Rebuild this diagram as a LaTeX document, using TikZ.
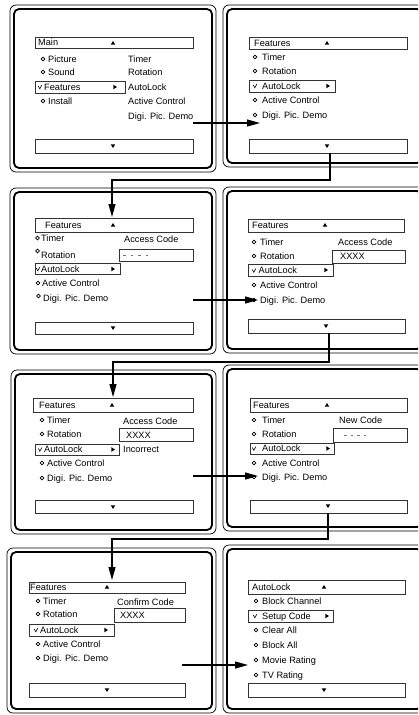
\documentclass[tikz,border=0pt]{standalone}
\usepackage{fontspec}
\setmainfont{Liberation Sans}
\usetikzlibrary{arrows.meta}
\tikzset{
  txt/.style={anchor=base west, inner sep=0pt, font=\fontsize{9.2}{10}\selectfont},
  mbox/.style={draw=black!80, line width=0.8pt},
  conn/.style={line width=1.2pt, -{Triangle[length=13pt,width=7pt]}},
  fout/.style={line width=0.7pt, rounded corners=6pt},
  finn/.style={line width=1.8pt, rounded corners=5pt},
}
\newcommand\tx[4]{\node[txt] (#1) at (#2,#3+3.2) {#4};}
\newcommand\mydia[2]{\draw[line width=0.7pt] (#1-1.8,#2)--(#1,#2-1.8)--(#1+1.8,#2)--(#1,#2+1.8)--cycle;}
\newcommand\mychk[2]{\draw[line width=0.6pt] (#1-1.7,#2-1)--(#1-0.2,#2+1.8)--(#1+1.9,#2-2);}
\newcommand\uptri[2]{\fill (#1-2.3,#2+1.7)--(#1+2.3,#2+1.7)--(#1,#2-2)--cycle;}
\newcommand\dntri[2]{\fill (#1-2.3,#2-1.7)--(#1+2.3,#2-1.7)--(#1,#2+2)--cycle;}
\newcommand\rttri[2]{\fill (#1-1.7,#2-2.3)--(#1-1.7,#2+2.3)--(#1+2,#2)--cycle;}
\newcommand\dashrow[3]{\foreach \k in {0,...,3} {\draw[black!55, line width=0.6pt] (#1+\k*#3,#2)--(#1+\k*#3+2.6,#2);}}
\newcommand\pframe[4]{\draw[fout] (#1,#2) rectangle (#3,#4); \draw[finn] (#1+4,#2+4) rectangle (#3-4,#4-4);}
\begin{document}
\begin{tikzpicture}[x=1pt,y=-1pt]
\useasboundingbox (0,0) rectangle (418,715);
\clip (0,0) rectangle (418,715);
% ---------- frames
\pframe{10}{5}{216}{172}
\pframe{223}{5}{426}{167}
\pframe{10}{188}{216}{354}
\pframe{223}{187}{426}{353}
\pframe{11}{370}{216}{534}
\pframe{223}{365}{426}{531}
\pframe{7}{548}{216}{713}
\pframe{223}{545}{426}{713}

% ---------- panel 1
\draw[mbox] (35,37) rectangle (193,48);
\tx{p1t}{38}{42.5}{Main} \uptri{113}{43}
\mydia{43}{59} \tx{p1a}{48}{59}{Picture}
\mydia{43}{72} \tx{p1b}{48}{72}{Sound}
\draw[mbox] (35,81) rectangle (125,93);
\mychk{40}{87} \tx{p1c}{44}{87}{Features} \rttri{115}{87}
\mydia{43}{101} \tx{p1d}{48}{101}{Install}
\tx{p1e}{128}{59}{Timer}
\tx{p1f}{128}{72}{Rotation}
\tx{p1g}{128}{87}{AutoLock}
\tx{p1h}{128}{101}{Active Control}
\tx{p1i}{128}{116}{Digi. Pic. Demo}
\draw[mbox] (35,139) rectangle (193,153); \dntri{113}{146}

% ---------- panel 2
\draw[mbox] (249,37) rectangle (407,49);
\tx{p2t}{254}{43}{Features} \uptri{327}{43}
\mydia{255}{57} \tx{p2a}{262}{57}{Timer}
\mydia{255}{71} \tx{p2b}{262}{71}{Rotation}
\draw[mbox] (249,80) rectangle (335,92);
\mychk{255}{86} \tx{p2c}{262}{86}{AutoLock} \rttri{328}{86}
\mydia{255}{100} \tx{p2d}{262}{100}{Active Control}
\mydia{255}{115} \tx{p2e}{262}{115}{Digi. Pic. Demo}
\draw[mbox] (249,139) rectangle (407,153); \dntri{327}{146}

% ---------- panel 3
\draw[mbox] (35,218) rectangle (193,232);
\tx{p3t}{45}{225}{Features} \uptri{113}{225}
\mydia{37.5}{238} \tx{p3a}{41}{238}{Timer}
\mydia{37.5}{251} \tx{p3b}{41}{255}{Rotation}
\draw[mbox] (35,263) rectangle (120,274);
\mychk{38}{269} \tx{p3c}{41}{269}{AutoLock} \rttri{113}{269}
\mydia{38}{283} \tx{p3d}{42}{283}{Active Control}
\mydia{38.5}{296} \tx{p3e}{43}{298}{Digi. Pic. Demo}
\tx{p3f}{124}{239}{Access Code}
\draw[mbox] (119,249) rectangle (193,261);
\dashrow{123}{255}{7.5}
\draw[mbox] (35,322) rectangle (193,334); \dntri{113}{328}

% ---------- panel 4
\draw[mbox] (248,219) rectangle (404,232);
\tx{p4t}{252}{225.5}{Features} \uptri{325}{225}
\mydia{254}{242} \tx{p4a}{260}{242}{Timer}
\mydia{254}{256} \tx{p4b}{260}{256}{Rotation}
\draw[mbox] (248,264) rectangle (333,276);
\mychk{254}{270.5} \tx{p4c}{258.5}{270.5}{AutoLock} \rttri{326}{270}
\mydia{254}{285} \tx{p4d}{260}{285}{Active Control}
\mydia{254}{300} \tx{p4e}{260}{300}{Digi. Pic. Demo}
\tx{p4f}{338}{242}{Access Code}
\draw[mbox] (332,250) rectangle (405,263);
\tx{p4g}{340}{256}{XXXX}
\draw[mbox] (248,319) rectangle (405,333); \dntri{326}{326}

% ---------- panel 5
\draw[mbox] (33,398) rectangle (193,412);
\tx{p5t}{39}{405}{Features} \uptri{112}{405}
\mydia{42}{420} \tx{p5a}{47}{420}{Timer}
\mydia{42}{434} \tx{p5b}{47}{434}{Rotation}
\draw[mbox] (35,444) rectangle (119,455);
\mychk{40}{449.5} \tx{p5c}{44}{449.5}{AutoLock} \rttri{113}{449.5}
\mydia{42}{463} \tx{p5d}{47}{463}{Active Control}
\mydia{42}{478} \tx{p5e}{47}{478}{Digi. Pic. Demo}
\tx{p5f}{123}{421}{Access Code}
\draw[mbox] (119,428) rectangle (193,441);
\tx{p5g}{126}{435}{XXXX}
\tx{p5h}{123}{449.5}{Incorrect}
\draw[mbox] (35,500) rectangle (193,513); \dntri{113}{507}

% ---------- panel 6
\draw[mbox] (250,398) rectangle (407,412);
\tx{p6t}{253}{405}{Features} \uptri{327}{405}
\mydia{254}{420} \tx{p6a}{262}{420}{Timer}
\mydia{254}{434} \tx{p6b}{262}{434}{Rotation}
\draw[mbox] (250,443) rectangle (334,454);
\mychk{254}{448.5} \tx{p6c}{262}{448.5}{AutoLock} \rttri{328}{448.5}
\mydia{254}{463} \tx{p6d}{262}{463}{Active Control}
\mydia{254}{477} \tx{p6e}{262}{477}{Digi. Pic. Demo}
\tx{p6f}{339}{420}{New Code}
\draw[mbox] (333,428) rectangle (407,442);
\dashrow{344}{435}{6.5}
\draw[mbox] (250,500) rectangle (407,513); \dntri{328}{506}

% ---------- panel 7
\draw[mbox] (29,582) rectangle (185,593);
\tx{p7t}{30}{587}{Features} \uptri{107}{587}
\mydia{38}{601} \tx{p7a}{43}{601}{Timer}
\mydia{38}{614} \tx{p7b}{43}{614}{Rotation}
\draw[mbox] (29,624) rectangle (114,636);
\mychk{36}{630} \tx{p7c}{40}{630}{AutoLock} \rttri{106}{630}
\mydia{38}{644} \tx{p7d}{43}{644}{Active Control}
\mydia{38}{658} \tx{p7e}{43}{658}{Digi. Pic. Demo}
\tx{p7f}{117}{602}{Confirm Code}
\draw[mbox] (114,608) rectangle (185,622);
\tx{p7g}{120}{615}{XXXX}
\draw[mbox] (29,683) rectangle (185,697); \dntri{107}{690}

% ---------- panel 8
\draw[mbox] (248,580) rectangle (405,594);
\tx{p8t}{252}{587}{AutoLock} \uptri{324}{587}
\mydia{256}{601} \tx{p8a}{262}{601}{Block Channel}
\draw[mbox] (248,610) rectangle (333,622);
\mychk{255}{616} \tx{p8b}{262}{616}{Setup Code} \rttri{327}{616}
\mydia{256}{630} \tx{p8c}{262}{630}{Clear All}
\mydia{256}{645} \tx{p8d}{262}{645}{Block All}
\mydia{256}{660} \tx{p8e}{262}{660}{Movie Rating}
\mydia{256}{675} \tx{p8f}{262}{675}{TV Rating}
\draw[mbox] (248,683) rectangle (405,697); \dntri{324}{690}

% ---------- connectors
\coordinate (h1s) at (193,123); \coordinate (h1e) at (260,123);
\coordinate (h2s) at (193,300); \coordinate (h2e) at (258,300);
\coordinate (h3s) at (193,476); \coordinate (h3e) at (258,476);
\coordinate (h4s) at (182,665); \coordinate (h4e) at (248,665);
\draw[conn] (h1s) -- (h1e);
\draw[conn] (h2s) -- (h2e);
\draw[conn] (h3s) -- (h3e);
\draw[conn] (h4s) -- (h4e);
\coordinate (v1s) at (330,153); \coordinate (v1m) at (112,180); \coordinate (v1e) at (112,217);
\coordinate (v2s) at (329,333); \coordinate (v2m) at (113,362); \coordinate (v2e) at (113,397);
\coordinate (v3s) at (328,513); \coordinate (v3m) at (112,539); \coordinate (v3e) at (112,580);
\draw[conn] (v1s) |- (v1m) -- (v1e);
\draw[conn] (v2s) |- (v2m) -- (v2e);
\draw[conn] (v3s) |- (v3m) -- (v3e);
\end{tikzpicture}
\end{document}
